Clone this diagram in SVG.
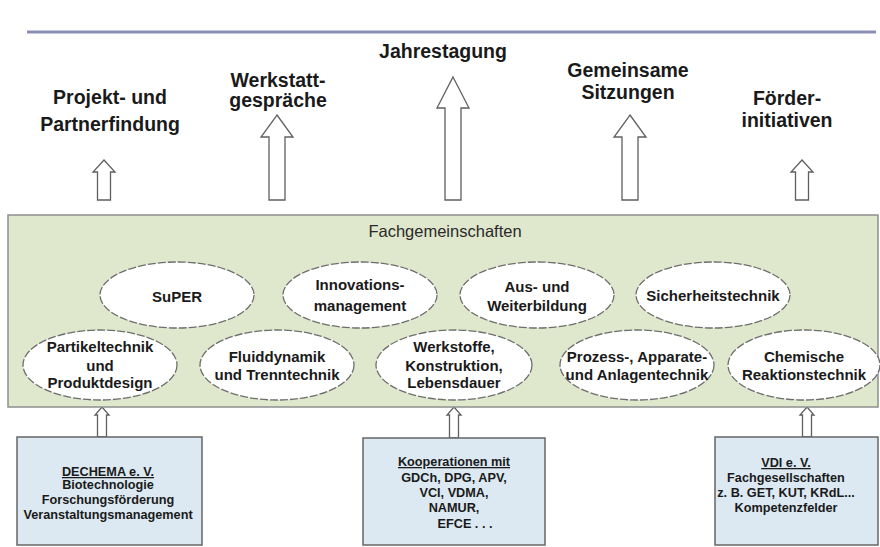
<svg xmlns="http://www.w3.org/2000/svg" width="880" height="547" viewBox="0 0 880 547">
<style>
.t{font-family:"Liberation Sans",Arial,sans-serif;font-weight:bold;fill:#1a1a1a;text-anchor:middle}
.h{font-size:19.5px}
.e{font-size:15px}
.b{font-size:12.7px}
.ell{fill:#ffffff;stroke:#6e6e6e;stroke-width:1.3;stroke-dasharray:8 2}
.arr{fill:#ffffff;stroke:#5f5f5f;stroke-width:1.3;stroke-linejoin:miter}
.box{fill:#dce9f2;stroke:#666;stroke-width:1.5}
</style>
<rect width="880" height="547" fill="#ffffff"/>
<line x1="27" y1="32" x2="876" y2="32" stroke="#8a8eb6" stroke-width="3"/>

<g id="top-labels">
<g id="label-projekt"><text class="t h" x="110" y="104">Projekt- und</text><text class="t h" x="110" y="131">Partnerfindung</text></g>
<g id="label-werkstatt"><text class="t h" x="278" y="87">Werkstatt-</text><text class="t h" x="278" y="107">gespräche</text></g>
<g id="label-jahrestagung"><text class="t h" x="443" y="58">Jahrestagung</text></g>
<g id="label-gemeinsame"><text class="t h" x="628" y="77">Gemeinsame</text><text class="t h" x="628" y="99">Sitzungen</text></g>
<g id="label-foerder"><text class="t h" x="787" y="105">Förder-</text><text class="t h" x="787" y="127">initiativen</text></g>
</g>

<g id="connectors">
<polygon class="arr" points="104,160 115,172 110.5,172 110.5,200 97.5,200 97.5,172 93,172"/>
<polygon class="arr" points="277,115 293,137 285,137 285,200 269,200 269,137 261,137"/>
<polygon class="arr" points="453,77 469,108 461,108 461,200 445,200 445,108 437,108"/>
<polygon class="arr" points="630,115 646,137 638,137 638,200 622,200 622,137 614,137"/>
<polygon class="arr" points="802,160 813,172 808.5,172 808.5,200 795.5,200 795.5,172 791,172"/>
<polygon class="arr" points="102,407 109,415 106.5,415 106.5,437 97.5,437 97.5,415 95,415"/>
<polygon class="arr" points="454,407 461,415 458.5,415 458.5,438 449.5,438 449.5,415 447,415"/>
<polygon class="arr" points="807,407 814,415 811.5,415 811.5,437 802.5,437 802.5,415 800,415"/>
</g>

<g id="fachgemeinschaften">
<rect x="8" y="215" width="870" height="192" fill="#dfe8cd" stroke="#8f8f8f" stroke-width="1.5"/>
<text x="445" y="237" font-family="'Liberation Sans',Arial,sans-serif" font-size="16.5" fill="#2a2a2a" text-anchor="middle">Fachgemeinschaften</text>
</g>

<g id="super"><ellipse class="ell" cx="177" cy="295" rx="77" ry="33"/><text class="t e" x="177" y="302">SuPER</text></g>
<g id="innovation"><ellipse class="ell" cx="360" cy="295" rx="77" ry="33"/><text class="t e" x="360" y="290">Innovations-</text><text class="t e" x="360" y="311">management</text></g>
<g id="ausbildung"><ellipse class="ell" cx="537" cy="295" rx="77" ry="33"/><text class="t e" x="537" y="292">Aus- und</text><text class="t e" x="537" y="311">Weiterbildung</text></g>
<g id="sicherheit"><ellipse class="ell" cx="713" cy="295" rx="77" ry="33"/><text class="t e" x="713" y="301">Sicherheitstechnik</text></g>

<g id="partikel"><ellipse class="ell" cx="100" cy="365" rx="77" ry="35"/><text class="t e" x="100" y="352">Partikeltechnik</text><text class="t e" x="100" y="371">und</text><text class="t e" x="100" y="388">Produktdesign</text></g>
<g id="fluid"><ellipse class="ell" cx="277" cy="365" rx="77" ry="35"/><text class="t e" x="277" y="362">Fluiddynamik</text><text class="t e" x="277" y="380">und Trenntechnik</text></g>
<g id="werkstoffe"><ellipse class="ell" cx="454" cy="365" rx="78" ry="35"/><text class="t e" x="454" y="352">Werkstoffe,</text><text class="t e" x="454" y="371">Konstruktion,</text><text class="t e" x="454" y="388">Lebensdauer</text></g>
<g id="prozess"><ellipse class="ell" cx="637" cy="365" rx="77" ry="35"/><text class="t e" x="637" y="362">Prozess-, Apparate-</text><text class="t e" x="637" y="380">und Anlagentechnik</text></g>
<g id="chemische"><ellipse class="ell" cx="804" cy="365" rx="76" ry="35"/><text class="t e" x="804" y="362">Chemische</text><text class="t e" x="804" y="380">Reaktionstechnik</text></g>

<g id="dechema">
<rect class="box" x="17" y="437" width="185" height="108"/>
<text class="t b" x="108" y="476" text-decoration="underline">DECHEMA e. V.</text>
<text class="t b" x="108" y="489">Biotechnologie</text>
<text class="t b" x="108" y="504">Forschungsförderung</text>
<text class="t b" x="108" y="519">Veranstaltungsmanagement</text>
</g>
<g id="kooperationen">
<rect class="box" x="363" y="438" width="182" height="107"/>
<text class="t b" x="454" y="466" text-decoration="underline">Kooperationen mit</text>
<text class="t b" x="454" y="482">GDCh, DPG, APV,</text>
<text class="t b" x="454" y="497">VCI, VDMA,</text>
<text class="t b" x="454" y="512">NAMUR,</text>
<text class="t b" x="465" y="528">EFCE . . .</text>
</g>
<g id="vdi">
<rect class="box" x="715" y="437" width="163" height="108"/>
<text class="t b" x="786" y="467" text-decoration="underline">VDI e. V.</text>
<text class="t b" x="786" y="482">Fachgesellschaften</text>
<text class="t b" x="786" y="497">z. B. GET, KUT, KRdL...</text>
<text class="t b" x="786" y="512">Kompetenzfelder</text>
</g>
</svg>
